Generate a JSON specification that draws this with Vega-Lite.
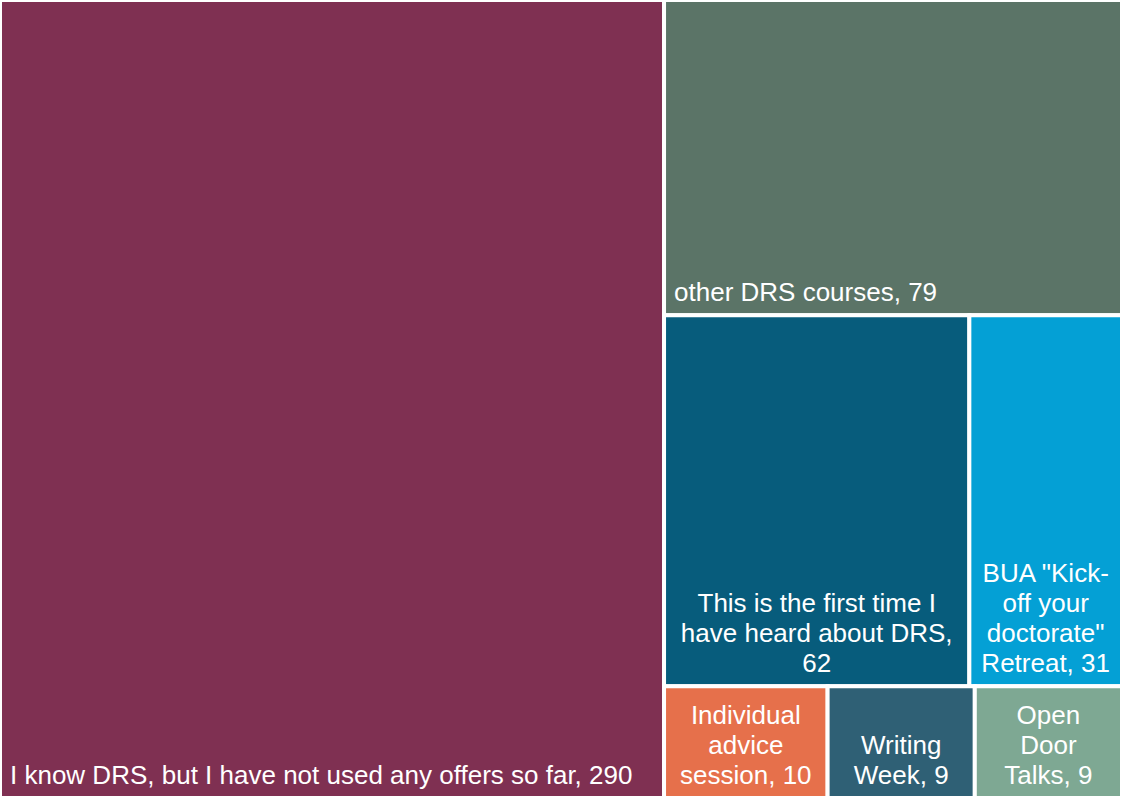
{
  "$schema": "https://vega.github.io/schema/vega-lite/v6.json",
  "width": 1122,
  "height": 798,
  "autosize": {"type": "none"},
  "padding": 0,
  "background": "white",
  "config": {"view": {"stroke": null}},
  "data": {
    "values": [
      {"name": "I know DRS, but I have not used any offers so far", "lines": ["I know DRS, but I have not used any offers so far, 290"], "value": 290, "col": 1, "row": 1, "ord": 1},
      {"name": "other DRS courses", "lines": ["other DRS courses, 79"], "value": 79, "col": 2, "row": 1, "ord": 1},
      {"name": "This is the first time I have heard about DRS", "lines": ["This is the first time I", "have heard about DRS,", "62"], "value": 62, "col": 2, "row": 2, "ord": 1},
      {"name": "BUA \"Kick-off your doctorate\" Retreat", "lines": ["BUA \"Kick-", "off your", "doctorate\"", "Retreat, 31"], "value": 31, "col": 2, "row": 2, "ord": 2},
      {"name": "Individual advice session", "lines": ["Individual", "advice", "session, 10"], "value": 10, "col": 2, "row": 3, "ord": 1},
      {"name": "Writing Week", "lines": ["Writing", "Week, 9"], "value": 9, "col": 2, "row": 3, "ord": 2},
      {"name": "Open Door Talks", "lines": ["Open", "Door", "Talks, 9"], "value": 9, "col": 2, "row": 3, "ord": 3}
    ]
  },
  "transform": [
    {"joinaggregate": [{"op": "sum", "field": "value", "as": "colTotal"}], "groupby": ["col"]},
    {"joinaggregate": [{"op": "sum", "field": "value", "as": "rowTotal"}], "groupby": ["col", "row"]},
    {"stack": "value", "groupby": ["col", "row"], "sort": [{"field": "ord", "order": "ascending"}], "offset": "normalize", "as": ["fx0", "fx1"]},
    {"window": [{"op": "sum", "field": "value", "as": "colEnd"}], "sort": [{"field": "col", "order": "ascending"}], "frame": [null, 0], "ignorePeers": false},
    {"window": [{"op": "sum", "field": "value", "as": "rowEnd"}], "groupby": ["col"], "sort": [{"field": "row", "order": "ascending"}], "frame": [null, 0], "ignorePeers": false},
    {"calculate": "datum.colEnd - datum.colTotal + datum.fx0 * datum.colTotal", "as": "x0"},
    {"calculate": "datum.colEnd - datum.colTotal + datum.fx1 * datum.colTotal", "as": "x1"},
    {"calculate": "(datum.x0 + datum.x1) / 2", "as": "xm"},
    {"calculate": "(datum.rowEnd - datum.rowTotal) / datum.colTotal", "as": "y0"},
    {"calculate": "datum.rowEnd / datum.colTotal", "as": "y1"}
  ],
  "layer": [
    {
      "mark": {"type": "rect", "stroke": "white", "strokeWidth": 4},
      "encoding": {
        "x": {"field": "x0", "type": "quantitative", "axis": null, "scale": {"nice": false, "zero": true}},
        "x2": {"field": "x1"},
        "y": {"field": "y0", "type": "quantitative", "axis": null, "scale": {"domain": [0, 1], "reverse": true, "nice": false}},
        "y2": {"field": "y1"},
        "color": {
          "field": "name",
          "type": "nominal",
          "legend": null,
          "scale": {
            "domain": ["I know DRS, but I have not used any offers so far", "other DRS courses", "This is the first time I have heard about DRS", "BUA \"Kick-off your doctorate\" Retreat", "Individual advice session", "Writing Week", "Open Door Talks"],
            "range": ["#7F3052", "#5B7467", "#075C7C", "#04A0D5", "#E6704B", "#2F6075", "#7EA893"]
          }
        }
      }
    },
    {
      "transform": [{"filter": "length(datum.lines) == 1"}],
      "mark": {"type": "text", "align": "left", "baseline": "alphabetic", "dx": 10, "dy": -14, "font": "Liberation Sans", "fontSize": 26, "color": "white"},
      "encoding": {
        "x": {"field": "x0", "type": "quantitative"},
        "y": {"field": "y1", "type": "quantitative"},
        "text": {"field": "lines"}
      }
    },
    {
      "transform": [{"filter": "length(datum.lines) == 2"}],
      "mark": {"type": "text", "align": "center", "baseline": "alphabetic", "lineHeight": 30, "dy": -44, "font": "Liberation Sans", "fontSize": 26, "color": "white"},
      "encoding": {
        "x": {"field": "xm", "type": "quantitative"},
        "y": {"field": "y1", "type": "quantitative"},
        "text": {"field": "lines"}
      }
    },
    {
      "transform": [{"filter": "length(datum.lines) == 3"}],
      "mark": {"type": "text", "align": "center", "baseline": "alphabetic", "lineHeight": 30, "dy": -74, "font": "Liberation Sans", "fontSize": 26, "color": "white"},
      "encoding": {
        "x": {"field": "xm", "type": "quantitative"},
        "y": {"field": "y1", "type": "quantitative"},
        "text": {"field": "lines"}
      }
    },
    {
      "transform": [{"filter": "length(datum.lines) == 4"}],
      "mark": {"type": "text", "align": "center", "baseline": "alphabetic", "lineHeight": 30, "dy": -104, "font": "Liberation Sans", "fontSize": 26, "color": "white"},
      "encoding": {
        "x": {"field": "xm", "type": "quantitative"},
        "y": {"field": "y1", "type": "quantitative"},
        "text": {"field": "lines"}
      }
    }
  ]
}
